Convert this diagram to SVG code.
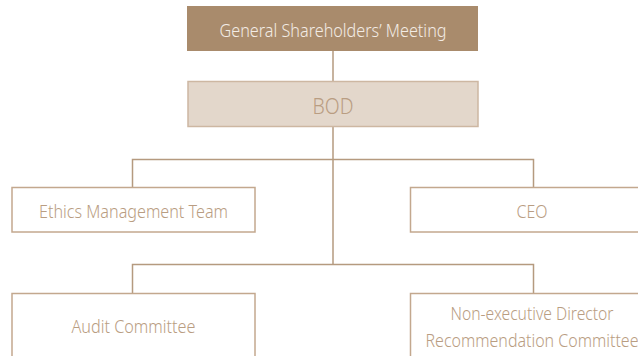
<svg xmlns="http://www.w3.org/2000/svg" width="638" height="356" viewBox="0 0 638 356">
<style>
.box{fill:#ffffff;stroke:#c3a88e;stroke-width:1.5}
.lbl{font-family:"Noto Sans","Open Sans",sans-serif;font-weight:300;fill:#b99d82;text-anchor:middle;font-size:18px}
.ln{stroke:#b59a7f;stroke-width:1.5;fill:none}
</style>
<rect width="638" height="356" fill="#ffffff"/>
<g id="connectors">
<path class="ln" d="M333 51V81"/>
<path class="ln" d="M333 127V264"/>
<path class="ln" d="M132.5 187V159.5H533.5V187"/>
<path class="ln" d="M132.5 293V264.5H533.5V293"/>
</g>
<g id="gsm">
<rect x="187" y="6" width="291" height="45" fill="#a98b6c"/>
<text class="lbl" x="333" y="36.5" style="fill:#f3ece5" textLength="227" lengthAdjust="spacingAndGlyphs">General Shareholders’ Meeting</text>
</g>
<g id="bod">
<rect x="188" y="81.5" width="290" height="45" fill="#e3d7cb" stroke="#cdb7a2" stroke-width="1.5"/>
<text class="lbl" x="333" y="114" style="font-size:21px" textLength="41" lengthAdjust="spacingAndGlyphs">BOD</text>
</g>
<g id="ethics">
<rect class="box" x="12" y="187.5" width="243" height="44.5"/>
<text class="lbl" x="133.5" y="218" textLength="189" lengthAdjust="spacingAndGlyphs">Ethics Management Team</text>
</g>
<g id="ceo">
<rect class="box" x="410.5" y="187.5" width="240" height="44.5"/>
<text class="lbl" x="532" y="218" textLength="31" lengthAdjust="spacingAndGlyphs">CEO</text>
</g>
<g id="audit">
<rect class="box" x="12" y="293.5" width="243" height="80"/>
<text class="lbl" x="133.5" y="333" textLength="124" lengthAdjust="spacingAndGlyphs">Audit Committee</text>
</g>
<g id="nedrc">
<rect class="box" x="410.5" y="293.5" width="240" height="80"/>
<text class="lbl" x="532" y="320" textLength="163" lengthAdjust="spacingAndGlyphs">Non-executive Director</text>
<text class="lbl" x="532" y="346.5" textLength="213" lengthAdjust="spacingAndGlyphs">Recommendation Committee</text>
</g>
</svg>
